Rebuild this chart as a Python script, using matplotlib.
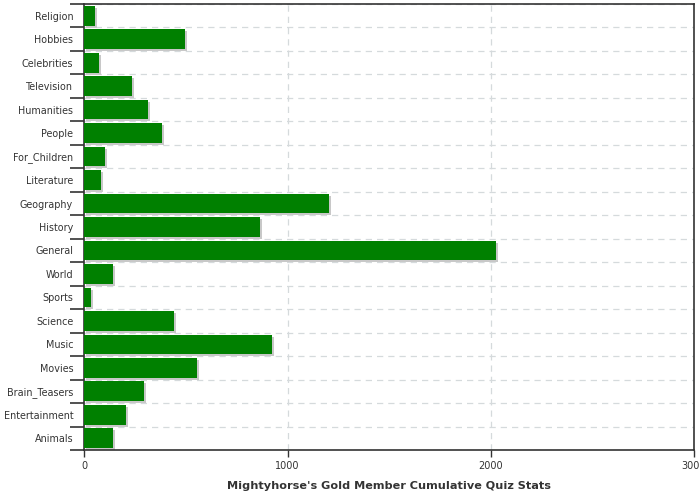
import matplotlib
matplotlib.use("Agg")
import matplotlib.pyplot as plt
import matplotlib.transforms as mtransforms
import numpy as np

categories = ["Religion", "Hobbies", "Celebrities", "Television", "Humanities",
              "People", "For_Children", "Literature", "Geography", "History",
              "General", "World", "Sports", "Science", "Music", "Movies",
              "Brain_Teasers", "Entertainment", "Animals"]
values = [53, 496, 72, 235, 313, 382, 102, 82, 1204, 865,
          2026, 141, 33, 441, 924, 555, 294, 205, 143]
xticks = [0, 1000, 2000, 3000]

plt.rcParams["font.family"] = "DejaVu Sans"
fig = plt.figure(figsize=(7, 5), dpi=100)
ax = fig.add_axes([0.1205, 0.1, 0.871, 0.892])

y = np.arange(len(categories))
h = 0.84
shadow = ax.transData + mtransforms.ScaledTranslation(2 / 100, -2 / 100, fig.dpi_scale_trans)
ax.barh(y, values, height=h, color="#c8c8c8", transform=shadow, zorder=2)
ax.barh(y, values, height=h, color="#008000", zorder=3)

ax.set_xlim(0, 3000)
ax.set_ylim(len(categories) - 0.5, -0.5)
ax.set_xticks(xticks)
ax.set_xticklabels([str(t) for t in xticks], fontsize=7, color="#333333")
ax.set_yticks(y)
ax.set_yticklabels(categories, fontsize=6.9, color="#333333")
ax.tick_params(axis="y", which="major", length=0, pad=8)
ax.set_yticks(np.arange(len(categories) + 1) - 0.5, minor=True)
ax.tick_params(axis="y", which="minor", length=10, width=1.2, color="#333333")
ax.tick_params(axis="x", which="major", length=5, width=1, color="#333333", pad=3)

ax.grid(axis="y", which="minor", linestyle=(0, (5, 4)), color="#d5dadc", linewidth=0.9, zorder=0)
ax.grid(axis="x", which="major", linestyle=(0, (5, 4)), color="#d5dadc", linewidth=0.9, zorder=0)
ax.set_axisbelow(True)

for s in ax.spines.values():
    s.set_color("#333333")
    s.set_linewidth(1.2)

ax.set_xlabel("Mightyhorse's Gold Member Cumulative Quiz Stats", fontsize=8.1,
              fontweight="bold", color="#333333", labelpad=7)

fig.savefig("out.png", dpi=100)
